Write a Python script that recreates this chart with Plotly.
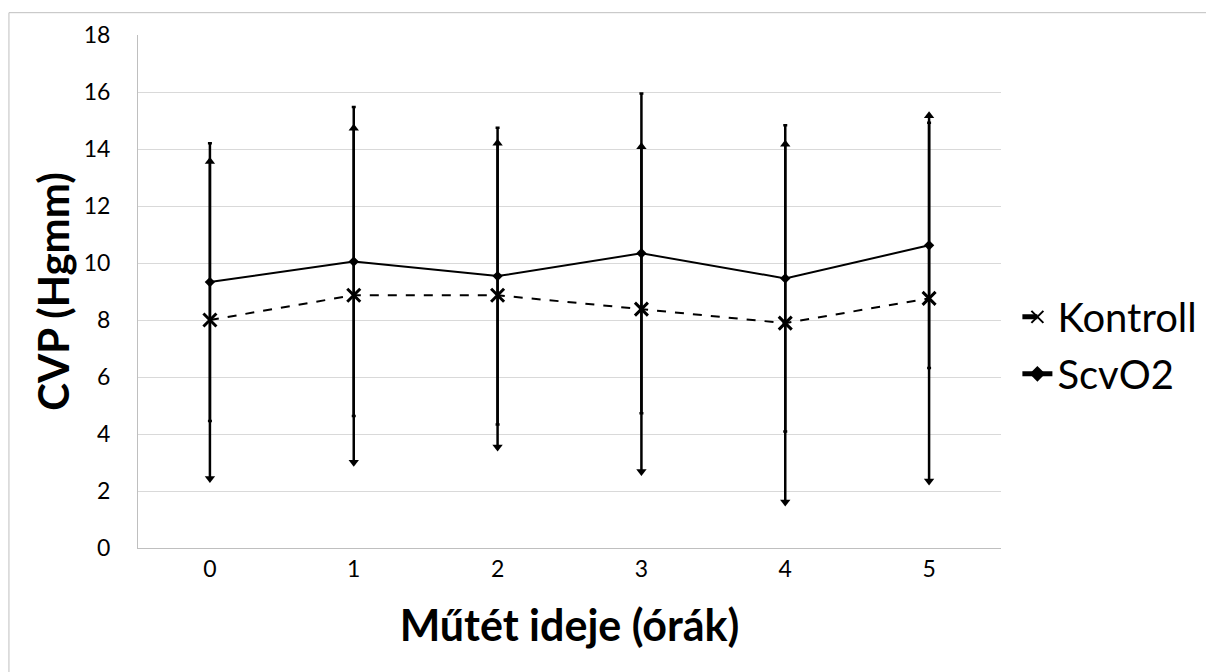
import plotly.graph_objects as go

hours = [0, 1, 2, 3, 4, 5]
hour_labels = ["0", "1", "2", "3", "4", "5"]
kontroll_mean = [8.0, 8.87, 8.87, 8.38, 7.89, 8.76]
kontroll_sd = [5.56, 5.86, 5.33, 5.70, 6.28, 6.41]
scvo2_mean = [9.33, 10.05, 9.54, 10.34, 9.46, 10.62]
scvo2_sd = [4.87, 5.42, 5.21, 5.61, 5.37, 4.30]
y_ticks = [0, 2, 4, 6, 8, 10, 12, 14, 16, 18]

FONT = "Lato"
W, H = 1206, 664
L, R, T, B = 130, 210, 23, 124
PW, PH = W - L - R, H - T - B

fig = go.Figure()

# Kontroll error bars (arrow heads)
fig.add_trace(go.Scatter(
    x=hours, y=kontroll_mean, mode="lines", showlegend=False, hoverinfo="skip",
    line=dict(color="rgba(0,0,0,0)", width=0),
    error_y=dict(type="data", array=kontroll_sd, visible=True, color="black",
                 thickness=2.5, width=0)))
fig.add_trace(go.Scatter(
    x=hours, y=[m + s for m, s in zip(kontroll_mean, kontroll_sd)], mode="markers",
    showlegend=False, hoverinfo="skip",
    marker=dict(symbol="triangle-up", size=9, color="black")))
fig.add_trace(go.Scatter(
    x=hours, y=[m - s for m, s in zip(kontroll_mean, kontroll_sd)], mode="markers",
    showlegend=False, hoverinfo="skip",
    marker=dict(symbol="triangle-down", size=9, color="black")))

# ScvO2 error bars (flat small caps)
fig.add_trace(go.Scatter(
    x=hours, y=scvo2_mean, mode="lines", showlegend=False, hoverinfo="skip",
    line=dict(color="rgba(0,0,0,0)", width=0),
    error_y=dict(type="data", array=scvo2_sd, visible=True, color="black",
                 thickness=2.5, width=2)))

fig.add_trace(go.Scatter(
    x=hours, y=kontroll_mean, mode="lines+markers", name="Kontroll",
    legendgroup="k",
    line=dict(color="black", width=2, dash="dash"),
    marker=dict(symbol="x-thin", size=13, color="black",
                line=dict(color="black", width=3))))
fig.add_trace(go.Scatter(
    x=hours, y=scvo2_mean, mode="lines+markers", name="ScvO2",
    legendgroup="s",
    line=dict(color="black", width=2),
    marker=dict(symbol="diamond", size=8, color="black")))

fig.update_layout(
    width=W, height=H,
    margin=dict(l=L, r=R, t=T, b=B),
    paper_bgcolor="white", plot_bgcolor="white",
    font=dict(family=FONT, color="black"),
    legend=dict(x=1.019, y=0.395, xanchor="left", yanchor="middle",
                font=dict(size=40, family=FONT), itemsizing="constant",
                traceorder="grouped", tracegroupgap=2, itemwidth=30,
                bgcolor="rgba(0,0,0,0)"),
    xaxis=dict(range=[-0.5, 5.5], tickmode="array", tickvals=hours,
               ticktext=hour_labels, showgrid=False, zeroline=False,
               showline=True, linecolor="#bfbfbf", linewidth=1,
               tickfont=dict(size=23, family=FONT, color="black"),
               title=dict(text="<b>Műtét ideje (órák)</b>", standoff=30,
                          font=dict(size=43, family=FONT, color="black"))),
    yaxis=dict(range=[0, 18], tickmode="array", tickvals=y_ticks,
               showgrid=True, gridcolor="#d9d9d9", gridwidth=1,
               zeroline=False, showline=True, linecolor="#bfbfbf", linewidth=1,
               ticks="outside", ticklen=22, tickcolor="rgba(0,0,0,0)",
               tickfont=dict(size=23, family=FONT, color="black"),
               title=dict(text="<b>CVP (Hgmm)</b>", standoff=1,
                          font=dict(size=42, family=FONT, color="black"))),
    shapes=[dict(type="rect", xref="paper", yref="paper",
                 x0=-(L - 0.5) / PW, x1=1 + (R + 20) / PW,
                 y0=-(B + 20) / PH, y1=1 + (T - 0.5) / PH,
                 line=dict(color="#bfbfbf", width=1), fillcolor="rgba(0,0,0,0)",
                 layer="below")],
)

fig.write_html("out.html")
